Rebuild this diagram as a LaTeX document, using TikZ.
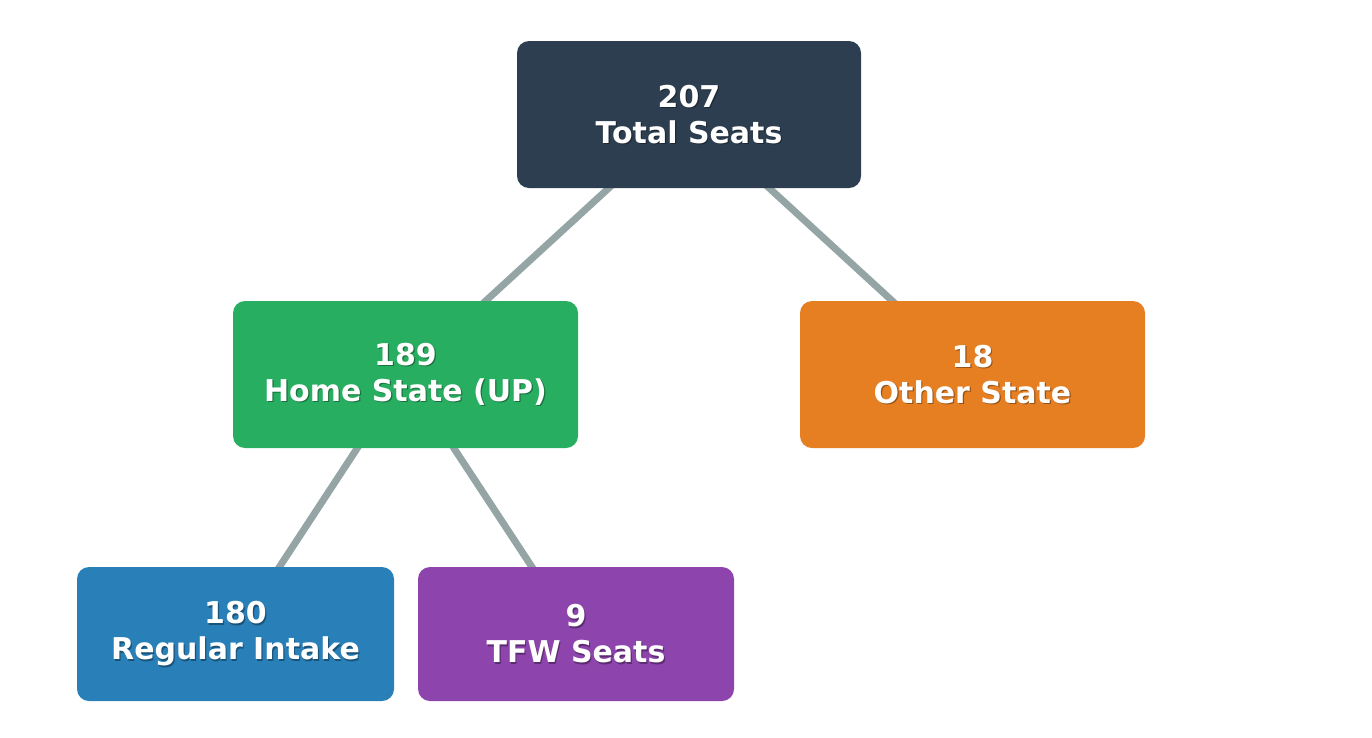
\documentclass[tikz,border=0pt]{standalone}
\usepackage{fontspec}
\setmainfont{DejaVu Sans}
\definecolor{cdark}{HTML}{2C3E50}
\definecolor{cgreen}{HTML}{27AE60}
\definecolor{corange}{HTML}{E67E22}
\definecolor{cblue}{HTML}{2980B9}
\definecolor{cpurple}{HTML}{8E44AD}
\definecolor{cedge}{HTML}{95A5A6}
\tikzset{
  lbl/.style={text=white, font=\fontsize{30}{36}\selectfont\bfseries, align=center},
  shd/.style={text=black, opacity=0.35, font=\fontsize{30}{36}\selectfont\bfseries, align=center},
  link/.style={draw=cedge, line width=7pt},
  boxfill/.style={rounded corners=12pt},
}
\begin{document}
\begin{tikzpicture}[x=1pt,y=-1pt]
\useasboundingbox (0,0) rectangle (1372,737);
\coordinate (top) at (689,114.5);
\coordinate (home) at (405.5,374.5);
\coordinate (other) at (972.5,374.5);
\coordinate (reg) at (235.5,634);
\coordinate (tfw) at (576,634);
\draw[link] (top) -- (home);
\draw[link] (top) -- (other);
\draw[link] (home) -- (reg);
\draw[link] (home) -- (tfw);
\fill[cdark, boxfill] (517,41) rectangle (861,188);
\fill[cgreen, boxfill] (233,301) rectangle (578,448);
\fill[corange, boxfill] (800,301) rectangle (1145,448);
\fill[cblue, boxfill] (77,567) rectangle (394,701);
\fill[cpurple, boxfill] (418,567) rectangle (734,701);
\foreach \c/\t in {top/{207\\Total Seats}, home/{189\\Home State (UP)}, other/{18\\Other State}, reg/{180\\Regular Intake}, tfw/{9\\TFW Seats}}{
  \node[shd] at ([shift={(1.2,1.2)}]\c) {\t};
}
\node[lbl] (ttop) at (top) {207\\Total Seats};
\node[lbl] (thome) at (home) {189\\Home State (UP)};
\node[lbl] (tother) at (other) {18\\Other State};
\node[lbl] (treg) at (reg) {180\\Regular Intake};
\node[lbl] (ttfw) at (tfw) {9\\TFW Seats};
\end{tikzpicture}
\end{document}
